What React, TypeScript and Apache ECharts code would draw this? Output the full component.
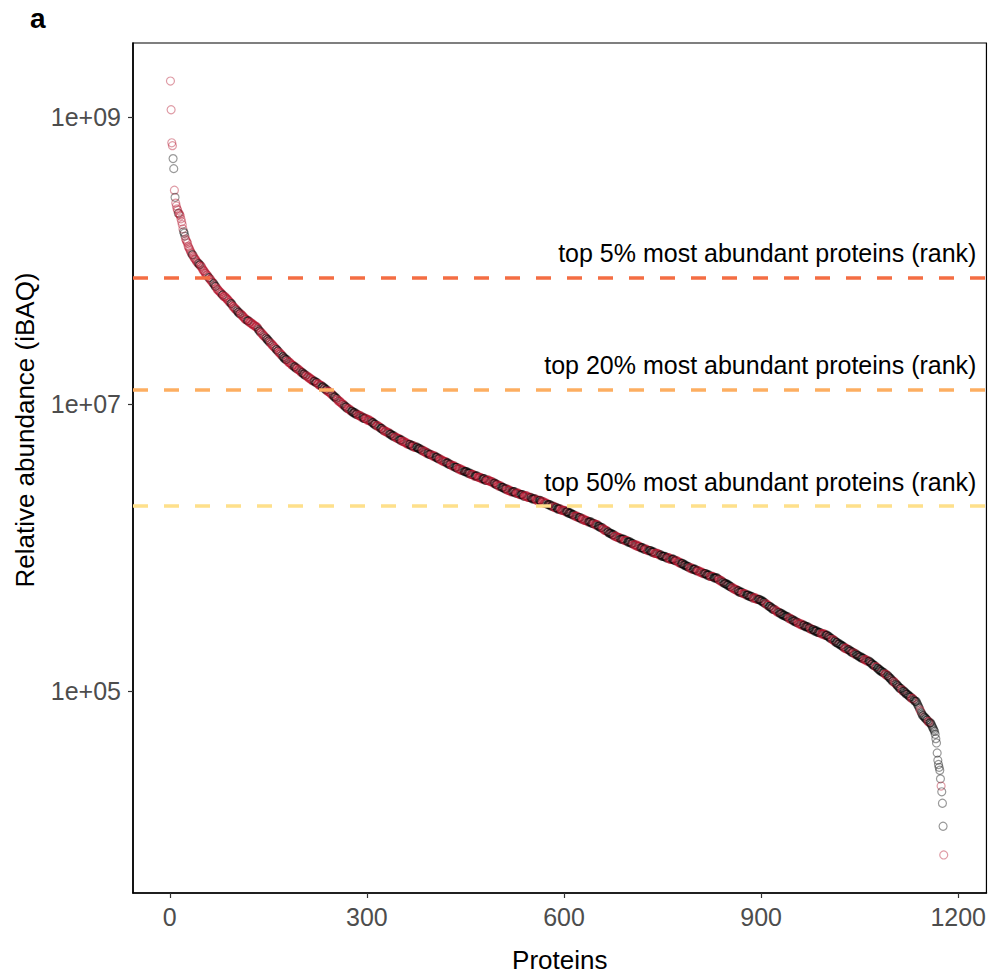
import React, { useEffect, useRef } from "react";
import * as echarts from "echarts";

const FONT = '"Liberation Sans", Arial, Helvetica, sans-serif';

// log10(iBAQ) of every protein, ordered by abundance rank (rank 1 first)
const log10Abundance: number[] = [
  9.25, 9.05, 8.82, 8.80, 8.71, 8.64, 8.49, 8.44, 8.40, 8.38,
  8.36, 8.35, 8.33, 8.33, 8.32, 8.31, 8.29, 8.27, 8.25, 8.22,
  8.20, 8.19, 8.17, 8.15, 8.14, 8.13, 8.12, 8.10, 8.09, 8.08,
  8.07, 8.06, 8.05, 8.04, 8.04, 8.03, 8.02, 8.01, 8.01, 8.00,
  7.99, 7.99, 7.98, 7.98, 7.97, 7.97, 7.96, 7.96, 7.95, 7.94,
  7.93, 7.93, 7.92, 7.91, 7.91, 7.90, 7.90, 7.89, 7.88, 7.88,
  7.87, 7.87, 7.86, 7.85, 7.85, 7.84, 7.84, 7.83, 7.82, 7.82,
  7.81, 7.80, 7.80, 7.79, 7.79, 7.78, 7.78, 7.77, 7.77, 7.76,
  7.76, 7.75, 7.75, 7.75, 7.74, 7.74, 7.73, 7.73, 7.72, 7.72,
  7.71, 7.71, 7.70, 7.70, 7.69, 7.68, 7.68, 7.67, 7.67, 7.66,
  7.66, 7.65, 7.65, 7.64, 7.64, 7.63, 7.63, 7.63, 7.62, 7.62,
  7.61, 7.61, 7.60, 7.60, 7.59, 7.59, 7.59, 7.58, 7.58, 7.58,
  7.57, 7.57, 7.57, 7.56, 7.56, 7.56, 7.55, 7.55, 7.55, 7.54,
  7.54, 7.54, 7.53, 7.53, 7.52, 7.51, 7.51, 7.50, 7.50, 7.49,
  7.49, 7.48, 7.48, 7.47, 7.47, 7.46, 7.46, 7.45, 7.45, 7.44,
  7.44, 7.43, 7.43, 7.42, 7.42, 7.41, 7.41, 7.40, 7.40, 7.39,
  7.39, 7.38, 7.38, 7.37, 7.37, 7.36, 7.36, 7.35, 7.35, 7.34,
  7.34, 7.33, 7.33, 7.32, 7.32, 7.31, 7.31, 7.31, 7.30, 7.30,
  7.29, 7.29, 7.29, 7.28, 7.28, 7.27, 7.27, 7.27, 7.26, 7.26,
  7.26, 7.25, 7.25, 7.25, 7.24, 7.24, 7.24, 7.23, 7.23, 7.22,
  7.22, 7.22, 7.21, 7.21, 7.21, 7.20, 7.20, 7.20, 7.19, 7.19,
  7.19, 7.18, 7.18, 7.18, 7.17, 7.17, 7.17, 7.16, 7.16, 7.16,
  7.16, 7.15, 7.15, 7.15, 7.14, 7.14, 7.14, 7.13, 7.13, 7.13,
  7.13, 7.12, 7.12, 7.12, 7.11, 7.11, 7.10, 7.10, 7.10, 7.09,
  7.09, 7.09, 7.08, 7.08, 7.07, 7.07, 7.07, 7.06, 7.06, 7.05,
  7.05, 7.05, 7.04, 7.04, 7.03, 7.03, 7.02, 7.02, 7.02, 7.01,
  7.01, 7.00, 7.00, 7.00, 6.99, 6.99, 6.98, 6.98, 6.98, 6.97,
  6.97, 6.97, 6.96, 6.96, 6.96, 6.95, 6.95, 6.95, 6.94, 6.94,
  6.94, 6.94, 6.93, 6.93, 6.93, 6.93, 6.92, 6.92, 6.92, 6.92,
  6.91, 6.91, 6.91, 6.91, 6.90, 6.90, 6.90, 6.90, 6.90, 6.89,
  6.89, 6.89, 6.89, 6.89, 6.88, 6.88, 6.88, 6.87, 6.87, 6.87,
  6.86, 6.86, 6.86, 6.85, 6.85, 6.85, 6.85, 6.84, 6.84, 6.84,
  6.83, 6.83, 6.83, 6.82, 6.82, 6.82, 6.81, 6.81, 6.81, 6.81,
  6.80, 6.80, 6.80, 6.80, 6.79, 6.79, 6.79, 6.78, 6.78, 6.78,
  6.78, 6.77, 6.77, 6.77, 6.77, 6.76, 6.76, 6.76, 6.76, 6.75,
  6.75, 6.75, 6.75, 6.74, 6.74, 6.74, 6.74, 6.73, 6.73, 6.73,
  6.73, 6.72, 6.72, 6.72, 6.72, 6.72, 6.71, 6.71, 6.71, 6.71,
  6.71, 6.70, 6.70, 6.70, 6.70, 6.70, 6.70, 6.69, 6.69, 6.69,
  6.69, 6.68, 6.68, 6.68, 6.68, 6.67, 6.67, 6.67, 6.67, 6.66,
  6.66, 6.66, 6.66, 6.65, 6.65, 6.65, 6.65, 6.65, 6.64, 6.64,
  6.64, 6.64, 6.64, 6.63, 6.63, 6.63, 6.63, 6.62, 6.62, 6.62,
  6.62, 6.61, 6.61, 6.61, 6.61, 6.60, 6.60, 6.60, 6.60, 6.60,
  6.59, 6.59, 6.59, 6.59, 6.58, 6.58, 6.58, 6.58, 6.57, 6.57,
  6.57, 6.57, 6.57, 6.56, 6.56, 6.56, 6.56, 6.55, 6.55, 6.55,
  6.55, 6.55, 6.54, 6.54, 6.54, 6.54, 6.54, 6.53, 6.53, 6.53,
  6.53, 6.53, 6.52, 6.52, 6.52, 6.52, 6.52, 6.51, 6.51, 6.51,
  6.51, 6.51, 6.50, 6.50, 6.50, 6.50, 6.50, 6.50, 6.49, 6.49,
  6.49, 6.49, 6.49, 6.48, 6.48, 6.48, 6.48, 6.48, 6.48, 6.47,
  6.47, 6.47, 6.47, 6.47, 6.47, 6.47, 6.46, 6.46, 6.46, 6.46,
  6.46, 6.45, 6.45, 6.45, 6.45, 6.44, 6.44, 6.44, 6.44, 6.43,
  6.43, 6.43, 6.43, 6.43, 6.42, 6.42, 6.42, 6.42, 6.41, 6.41,
  6.41, 6.41, 6.41, 6.40, 6.40, 6.40, 6.40, 6.40, 6.39, 6.39,
  6.39, 6.39, 6.39, 6.39, 6.39, 6.38, 6.38, 6.38, 6.38, 6.38,
  6.38, 6.37, 6.37, 6.37, 6.37, 6.37, 6.37, 6.36, 6.36, 6.36,
  6.36, 6.36, 6.36, 6.36, 6.35, 6.35, 6.35, 6.35, 6.35, 6.35,
  6.34, 6.34, 6.34, 6.34, 6.34, 6.34, 6.34, 6.33, 6.33, 6.33,
  6.33, 6.33, 6.33, 6.33, 6.32, 6.32, 6.32, 6.32, 6.32, 6.31,
  6.31, 6.31, 6.31, 6.31, 6.30, 6.30, 6.30, 6.30, 6.30, 6.29,
  6.29, 6.29, 6.29, 6.29, 6.28, 6.28, 6.28, 6.28, 6.28, 6.27,
  6.27, 6.27, 6.27, 6.27, 6.27, 6.26, 6.26, 6.26, 6.26, 6.26,
  6.26, 6.25, 6.25, 6.25, 6.25, 6.25, 6.24, 6.24, 6.24, 6.24,
  6.24, 6.23, 6.23, 6.23, 6.23, 6.22, 6.22, 6.22, 6.22, 6.22,
  6.21, 6.21, 6.21, 6.21, 6.21, 6.20, 6.20, 6.20, 6.20, 6.20,
  6.19, 6.19, 6.19, 6.19, 6.19, 6.18, 6.18, 6.18, 6.18, 6.18,
  6.18, 6.17, 6.17, 6.17, 6.17, 6.17, 6.16, 6.16, 6.16, 6.16,
  6.16, 6.15, 6.15, 6.15, 6.14, 6.14, 6.14, 6.14, 6.13, 6.13,
  6.13, 6.12, 6.12, 6.12, 6.12, 6.11, 6.11, 6.11, 6.10, 6.10,
  6.10, 6.10, 6.09, 6.09, 6.09, 6.09, 6.08, 6.08, 6.08, 6.08,
  6.07, 6.07, 6.07, 6.07, 6.07, 6.06, 6.06, 6.06, 6.06, 6.06,
  6.06, 6.05, 6.05, 6.05, 6.05, 6.05, 6.04, 6.04, 6.04, 6.04,
  6.04, 6.03, 6.03, 6.03, 6.03, 6.02, 6.02, 6.02, 6.02, 6.02,
  6.01, 6.01, 6.01, 6.01, 6.01, 6.00, 6.00, 6.00, 6.00, 6.00,
  5.99, 5.99, 5.99, 5.99, 5.99, 5.99, 5.98, 5.98, 5.98, 5.98,
  5.98, 5.98, 5.97, 5.97, 5.97, 5.97, 5.97, 5.96, 5.96, 5.96,
  5.96, 5.96, 5.96, 5.95, 5.95, 5.95, 5.95, 5.95, 5.94, 5.94,
  5.94, 5.94, 5.94, 5.94, 5.93, 5.93, 5.93, 5.93, 5.93, 5.93,
  5.92, 5.92, 5.92, 5.92, 5.92, 5.92, 5.92, 5.91, 5.91, 5.91,
  5.91, 5.91, 5.90, 5.90, 5.90, 5.90, 5.89, 5.89, 5.89, 5.89,
  5.89, 5.88, 5.88, 5.88, 5.88, 5.87, 5.87, 5.87, 5.87, 5.86,
  5.86, 5.86, 5.86, 5.86, 5.85, 5.85, 5.85, 5.85, 5.85, 5.85,
  5.84, 5.84, 5.84, 5.84, 5.84, 5.83, 5.83, 5.83, 5.83, 5.83,
  5.82, 5.82, 5.82, 5.82, 5.82, 5.82, 5.81, 5.81, 5.81, 5.81,
  5.81, 5.80, 5.80, 5.80, 5.80, 5.80, 5.80, 5.79, 5.79, 5.79,
  5.79, 5.79, 5.79, 5.78, 5.78, 5.78, 5.77, 5.77, 5.77, 5.77,
  5.76, 5.76, 5.76, 5.75, 5.75, 5.75, 5.75, 5.74, 5.74, 5.74,
  5.74, 5.73, 5.73, 5.73, 5.72, 5.72, 5.72, 5.72, 5.71, 5.71,
  5.71, 5.71, 5.70, 5.70, 5.70, 5.70, 5.69, 5.69, 5.69, 5.69,
  5.69, 5.68, 5.68, 5.68, 5.68, 5.68, 5.67, 5.67, 5.67, 5.67,
  5.67, 5.66, 5.66, 5.66, 5.66, 5.66, 5.65, 5.65, 5.65, 5.65,
  5.65, 5.65, 5.64, 5.64, 5.64, 5.64, 5.64, 5.64, 5.63, 5.63,
  5.63, 5.63, 5.62, 5.62, 5.62, 5.61, 5.61, 5.61, 5.60, 5.60,
  5.60, 5.59, 5.59, 5.59, 5.58, 5.58, 5.58, 5.57, 5.57, 5.57,
  5.57, 5.56, 5.56, 5.56, 5.55, 5.55, 5.55, 5.55, 5.54, 5.54,
  5.54, 5.54, 5.53, 5.53, 5.53, 5.53, 5.52, 5.52, 5.52, 5.52,
  5.51, 5.51, 5.51, 5.51, 5.50, 5.50, 5.50, 5.50, 5.49, 5.49,
  5.49, 5.49, 5.48, 5.48, 5.48, 5.48, 5.47, 5.47, 5.47, 5.47,
  5.47, 5.46, 5.46, 5.46, 5.46, 5.46, 5.45, 5.45, 5.45, 5.45,
  5.45, 5.44, 5.44, 5.44, 5.44, 5.43, 5.43, 5.43, 5.43, 5.43,
  5.42, 5.42, 5.42, 5.42, 5.42, 5.41, 5.41, 5.41, 5.41, 5.41,
  5.40, 5.40, 5.40, 5.40, 5.40, 5.40, 5.39, 5.39, 5.39, 5.39,
  5.39, 5.38, 5.38, 5.38, 5.37, 5.37, 5.37, 5.36, 5.36, 5.36,
  5.35, 5.35, 5.35, 5.34, 5.34, 5.34, 5.33, 5.33, 5.33, 5.33,
  5.32, 5.32, 5.32, 5.31, 5.31, 5.31, 5.30, 5.30, 5.30, 5.30,
  5.29, 5.29, 5.29, 5.29, 5.28, 5.28, 5.28, 5.27, 5.27, 5.27,
  5.27, 5.26, 5.26, 5.26, 5.26, 5.25, 5.25, 5.25, 5.24, 5.24,
  5.24, 5.24, 5.23, 5.23, 5.23, 5.23, 5.22, 5.22, 5.22, 5.22,
  5.21, 5.21, 5.21, 5.21, 5.21, 5.20, 5.20, 5.19, 5.19, 5.19,
  5.18, 5.18, 5.18, 5.17, 5.17, 5.17, 5.16, 5.16, 5.15, 5.15,
  5.15, 5.14, 5.14, 5.14, 5.13, 5.13, 5.13, 5.12, 5.12, 5.12,
  5.11, 5.11, 5.11, 5.10, 5.10, 5.09, 5.09, 5.08, 5.08, 5.07,
  5.07, 5.07, 5.06, 5.06, 5.05, 5.05, 5.04, 5.04, 5.03, 5.03,
  5.02, 5.02, 5.02, 5.01, 5.01, 5.00, 5.00, 5.00, 4.99, 4.99,
  4.98, 4.98, 4.98, 4.97, 4.97, 4.96, 4.96, 4.96, 4.95, 4.95,
  4.95, 4.94, 4.94, 4.93, 4.93, 4.93, 4.92, 4.91, 4.90, 4.89,
  4.88, 4.87, 4.86, 4.85, 4.84, 4.83, 4.83, 4.82, 4.82, 4.81,
  4.81, 4.80, 4.80, 4.79, 4.79, 4.78, 4.78, 4.78, 4.77, 4.76,
  4.75, 4.74, 4.73, 4.72, 4.70, 4.67, 4.64, 4.57, 4.52, 4.49,
  4.47, 4.45, 4.39, 4.34, 4.30, 4.22, 4.06, 3.86,
];

// colour group of the proteins along the rank order, as [group, run length]
const groupRuns: [string, number][] = [
  ["R", 4], ["K", 2], ["R", 1], ["K", 1], ["R", 4], ["K", 1], ["R", 7], ["K", 3], ["R", 10], ["K", 2],
  ["R", 8], ["K", 3], ["R", 12], ["K", 2], ["R", 6], ["K", 4], ["R", 9], ["K", 2], ["R", 11], ["K", 3],
  ["R", 7], ["K", 5], ["R", 10], ["K", 3], ["R", 14], ["K", 4], ["R", 8], ["K", 6], ["R", 9], ["K", 4],
  ["R", 6], ["K", 7], ["R", 10], ["K", 5], ["R", 8], ["K", 6], ["R", 12], ["K", 5], ["R", 7], ["K", 8],
  ["R", 9], ["K", 6], ["R", 11], ["K", 5], ["R", 6], ["K", 9], ["R", 8], ["K", 4], ["R", 10], ["K", 7],
  ["R", 6], ["K", 5], ["R", 9], ["K", 8], ["R", 7], ["K", 4], ["R", 11], ["K", 6], ["R", 5], ["K", 9],
  ["R", 8], ["K", 5], ["R", 7], ["K", 6], ["R", 10], ["K", 7], ["R", 6], ["K", 5], ["R", 9], ["K", 10],
  ["R", 7], ["K", 4], ["R", 8], ["K", 6], ["R", 11], ["K", 5], ["R", 6], ["K", 8], ["R", 9], ["K", 6],
  ["R", 7], ["K", 5], ["R", 10], ["K", 7], ["R", 6], ["K", 4], ["R", 8], ["K", 9], ["R", 5], ["K", 6],
  ["R", 9], ["K", 12], ["R", 7], ["K", 5], ["R", 10], ["K", 8], ["R", 6], ["K", 7], ["R", 8], ["K", 10],
  ["R", 9], ["K", 6], ["R", 5], ["K", 9], ["R", 11], ["K", 7], ["R", 6], ["K", 8], ["R", 9], ["K", 11],
  ["R", 7], ["K", 6], ["R", 8], ["K", 12], ["R", 6], ["K", 7], ["R", 10], ["K", 9], ["R", 5], ["K", 8],
  ["R", 7], ["K", 13], ["R", 9], ["K", 7], ["R", 6], ["K", 10], ["R", 8], ["K", 11], ["R", 5], ["K", 9],
  ["R", 7], ["K", 14], ["R", 6], ["K", 8], ["R", 9], ["K", 10], ["R", 4], ["K", 12], ["R", 8], ["K", 9],
  ["R", 5], ["K", 14], ["R", 6], ["K", 8], ["R", 4], ["K", 12], ["R", 7], ["K", 10], ["R", 3], ["K", 11],
  ["R", 5], ["K", 9], ["R", 4], ["K", 8], ["R", 3], ["K", 12], ["R", 4], ["K", 9], ["R", 2], ["K", 10],
  ["R", 3], ["K", 17], ["R", 1], ["K", 3], ["R", 1],
];

const groupColors: Record<string, string> = {
  R: "rgba(178, 16, 42, 0.52)",
  K: "rgba(0, 0, 0, 0.5)",
};

const thresholdNames = [
  "top 5% most abundant proteins (rank)",
  "top 20% most abundant proteins (rank)",
  "top 50% most abundant proteins (rank)",
];
const thresholdLog10 = [7.882, 7.104, 6.292];
const thresholdColors = ["#F46D43", "#FDAE61", "#FEE08B"];

const xTickValues = [0, 300, 600, 900, 1200];
const yTickExponents = [5, 7, 9];

const X_MIN = -56;
const X_MAX = 1243;
const Y_MIN = 3.595;
const Y_MAX = 9.515;

export default function App() {
  const ref = useRef<HTMLDivElement>(null);

  useEffect(() => {
    document.body.style.margin = "0";
    const chart = echarts.init(ref.current as HTMLDivElement, null, { renderer: "svg" });

    const groups: string[] = [];
    groupRuns.forEach(([g, n]) => {
      for (let i = 0; i < n; i++) groups.push(g);
    });

    const points = log10Abundance.map((v, i) => ({
      value: [i + 1, v],
      itemStyle: {
        color: "rgba(0,0,0,0)",
        borderColor: groupColors[groups[i] || "K"],
        borderWidth: 1.2,
      },
    }));

    chart.setOption({
      animation: false,
      backgroundColor: "#ffffff",
      textStyle: { fontFamily: FONT },
      grid: {
        left: 133,
        right: 2,
        top: 43,
        bottom: 81,
        show: true,
        borderColor: "#000000",
        borderWidth: 1.2,
        backgroundColor: "transparent",
      },
      xAxis: {
        type: "value",
        min: X_MIN,
        max: X_MAX,
        splitLine: { show: false },
        axisLine: { show: true, onZero: false, lineStyle: { color: "#000000", width: 1.6 } },
        axisTick: {
          show: true,
          customValues: xTickValues,
          length: 5,
          lineStyle: { color: "#333333", width: 1.2 },
        },
        axisLabel: {
          customValues: xTickValues,
          color: "#4D4D4D",
          fontSize: 25,
          fontFamily: FONT,
          margin: 11,
          formatter: (v: number) => String(Math.round(v)),
        },
      },
      yAxis: {
        type: "value",
        min: Y_MIN,
        max: Y_MAX,
        splitLine: { show: false },
        axisLine: { show: true, onZero: false, lineStyle: { color: "#000000", width: 1.6 } },
        axisTick: {
          show: true,
          customValues: yTickExponents,
          length: 5,
          lineStyle: { color: "#333333", width: 1.2 },
        },
        axisLabel: {
          customValues: yTickExponents,
          color: "#4D4D4D",
          fontSize: 25,
          fontFamily: FONT,
          margin: 12,
          formatter: (v: number) => "1e+" + (v < 10 ? "0" : "") + Math.round(v),
        },
      },
      series: [
        {
          type: "scatter",
          name: "proteins",
          symbol: "circle",
          symbolSize: 8,
          silent: true,
          data: points,
          markLine: {
            silent: true,
            symbol: ["none", "none"],
            animation: false,
            label: { show: false },
            data: thresholdLog10.map((v, i) => ({
              yAxis: v,
              lineStyle: { color: thresholdColors[i], width: 3.5, type: [15, 16], opacity: 1 },
            })),
          },
        },
      ],
    });

    const rightPx = chart.convertToPixel({ xAxisIndex: 0 }, X_MAX) as number;
    const leftPx = chart.convertToPixel({ xAxisIndex: 0 }, X_MIN) as number;

    const labelTexts = thresholdNames.map((name, i) => {
      const y = chart.convertToPixel({ yAxisIndex: 0 }, thresholdLog10[i]) as number;
      return {
        type: "text",
        x: rightPx - 10,
        y: y - 24,
        silent: true,
        style: {
          text: name,
          fill: "#000000",
          fontSize: 25,
          fontFamily: FONT,
          align: "right",
          verticalAlign: "middle",
        },
      };
    });

    chart.setOption({
      graphic: {
        elements: [
          ...labelTexts,
          {
            type: "text",
            x: (leftPx + rightPx) / 2,
            y: 960,
            silent: true,
            style: {
              text: "Proteins",
              fill: "#000000",
              fontSize: 26,
              fontFamily: FONT,
              align: "center",
              verticalAlign: "middle",
            },
          },
          {
            type: "text",
            x: 25,
            y: 430,
            rotation: Math.PI / 2,
            silent: true,
            style: {
              text: "Relative abundance (iBAQ)",
              fill: "#000000",
              fontSize: 26,
              fontFamily: FONT,
              align: "center",
              verticalAlign: "middle",
            },
          },
          {
            type: "text",
            x: 30,
            y: 18,
            silent: true,
            style: {
              text: "a",
              fill: "#000000",
              fontSize: 28,
              fontWeight: "bold",
              fontFamily: FONT,
              align: "left",
              verticalAlign: "middle",
            },
          },
        ],
      },
    });

    return () => chart.dispose();
  }, []);

  return <div ref={ref} style={{ width: 989, height: 974 }} />;
}
